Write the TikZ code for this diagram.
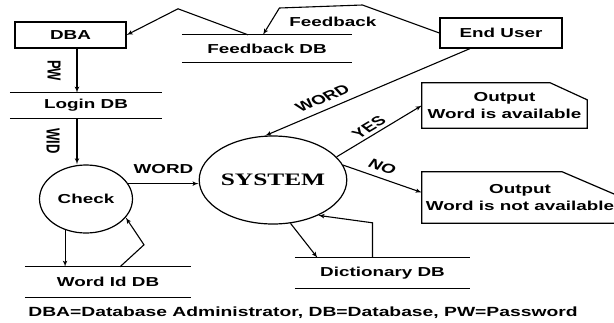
\documentclass[tikz,border=0pt]{standalone}
\usepackage{fontspec}
\setsansfont{Liberation Sans}
\newfontfamily\sysfont{Liberation Serif}
\usepackage{graphicx}
\usepackage{tikz}
\usetikzlibrary{arrows,shapes.geometric}
\newcommand{\wide}[1]{\scalebox{1.45}[1]{#1}}
\tikzstyle{txt}=[font=\sffamily\bfseries\fontsize{13}{17}\selectfont, inner sep=0pt]
\tikzstyle{entity}=[txt, draw, line width=1.2pt]
\tikzstyle{store}=[txt]
\tikzstyle{outbox}=[txt, align=center]
\tikzstyle{process}=[txt, draw, ellipse, line width=1.2pt]
\tikzstyle{line}=[draw, line width=1.1pt, -latex']
\tikzstyle{flowlabel}=[txt]
\newcommand{\store}[5]{%
  \path (#2) node (#1) [store, minimum width=#3, minimum height=#4] {\wide{#5}};
  \draw[line width=1.2pt] (#1.north west) -- (#1.north east)
    (#1.south west) -- (#1.south east);}
\newcommand{\outbox}[7]{%
  \path (#2) node (#1) [outbox, minimum width=#3, minimum height=#4] {#7};
  % Box with the upper right corner cut off
  \draw[line width=1.2pt] (#1.south west) -- (#1.north west)
    -- ([xshift=-#5]#1.north east) -- ([yshift=-#6]#1.north east)
    -- (#1.south east) -- cycle;}

\begin{document}
\begin{tikzpicture}[x=1pt,y=-1pt]
\useasboundingbox (0,0) rectangle (614,322);
\clip (0,0) rectangle (614,322);

  % Draw diagram elements
\path (70.5,35) node (dba)[entity, minimum width=111pt, minimum height=26pt] {\wide{DBA}};
\path (501,33) node (eu)[entity, minimum width=122pt, minimum height=30pt] {\wide{End User}};

\store{fdb}{267,48.5}{170pt}{27pt}{Feedback DB}
\store{login}{86,105.5}{152pt}{25pt}{Login DB}
\store{wid}{108,282}{166pt}{30pt}{Word Id DB}
\store{dict}{382.5,273}{175pt}{30pt}{Dictionary DB}

\path (86,199) node (check)[process, minimum width=93pt, minimum height=68pt] {\wide{Check}};
\path (273,180) node (sys)[process, minimum width=141pt, minimum height=88pt,
  font=\sysfont\bfseries\fontsize{17.5}{20}\selectfont] {\wide{SYSTEM}};

\outbox{o1}{504.5,105.5}{165pt}{45pt}{37pt}{17pt}{\wide{Output}\\\wide{Word is available}}
\outbox{o2}{520,197.5}{196pt}{51pt}{56pt}{24pt}{\wide{Output}\\\wide{Word is not available}}

\path (303,313) node (key)[txt, font=\sffamily\bfseries\fontsize{13.3}{16}\selectfont]
  {\wide{DBA=Database Administrator, DB=Database, PW=Password}};

  % Draw arrows between elements
\path [line] ([xshift=-19pt]fdb.north) -- ++(-70,-26) -- (dba.east);
\path [line] (eu.west) -- ++(-77,-28) -- node [flowlabel, below=10pt, xshift=12pt]
  {\wide{Feedback}} ++(-83,3) -- ([xshift=-4pt]fdb.north);
\path [line] ([xshift=6.5pt]dba.south) -- node [flowlabel, xshift=-23pt]
  {\wide{\rotatebox{-90}{PW}}} ([xshift=-9pt]login.north);
\path [line] ([xshift=-9pt]login.south) -- node [flowlabel, xshift=-24pt]
  {\wide{\rotatebox{-90}{WID}}} ([xshift=-9pt]check.north);
\path [line] (check.20) -- node [flowlabel, above=9pt] {\wide{WORD}} (check.20 -| sys.west);
\path [line] ([xshift=-31pt]eu.south) -- node [flowlabel, pos=.72, yshift=13pt]
  {\wide{\rotatebox{32}{WORD}}} (sys.100);
\path [line] (sys.20) -- node [flowlabel, pos=.38, yshift=10pt]
  {\wide{\rotatebox{41}{YES}}} (o1.west);
\path [line] (sys.12) -- node [flowlabel, pos=.5, yshift=12pt]
  {\wide{\rotatebox{-27}{NO}}} ([yshift=5pt]o2.west);
\path [line] (sys.-68) -- ([xshift=-65pt]dict.north);
\path [line] ([xshift=-10pt]dict.north) -- ++(0,-35) -- (sys.-38);
\path [line] (check.-124) -- (check.-124 |- wid.north);
\path [line] ([xshift=12pt]wid.north) -- ++(24,-22) -- (check.-25);
\end{tikzpicture}
\end{document}
